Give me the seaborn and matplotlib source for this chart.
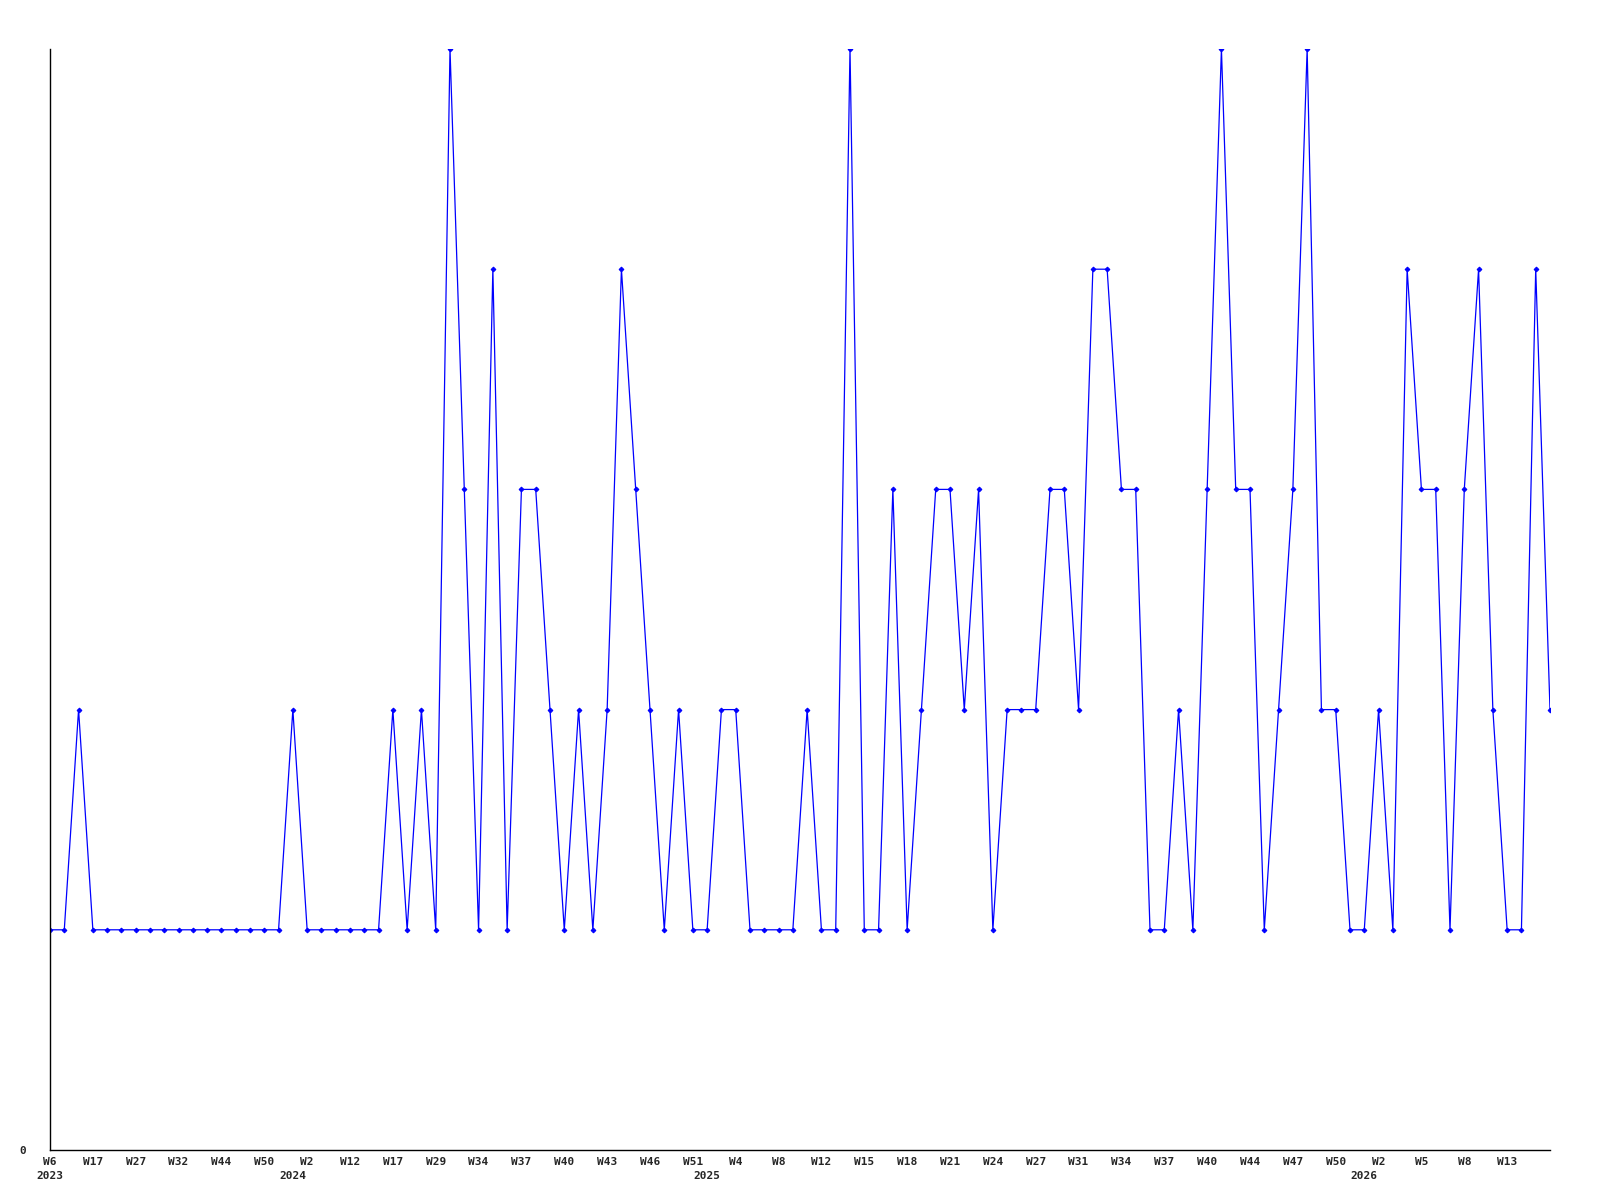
import pandas as pd
import matplotlib
matplotlib.use("Agg")
import matplotlib.pyplot as plt
import seaborn as sns

# one value per sample, in order
values = [1, 1, 2, 1, 1, 1, 1, 1, 1, 1, 1, 1, 1, 1, 1, 1, 1, 2, 1, 1,
          1, 1, 1, 1, 2, 1, 2, 1, 5, 3, 1, 4, 1, 3, 3, 2, 1, 2, 1, 2,
          4, 3, 2, 1, 2, 1, 1, 2, 2, 1, 1, 1, 1, 2, 1, 1, 5, 1, 1, 3,
          1, 2, 3, 3, 2, 3, 1, 2, 2, 2, 3, 3, 2, 4, 4, 3, 3, 1, 1, 2,
          1, 3, 5, 3, 3, 1, 2, 3, 5, 2, 2, 1, 1, 2, 1, 4, 3, 3, 1, 3,
          4, 2, 1, 1, 4, 2]

# week labels shown on every third sample
week_labels = ["W6", "W17", "W27", "W32", "W44", "W50", "W2", "W12", "W17",
               "W29", "W34", "W37", "W40", "W43", "W46", "W51", "W4", "W8",
               "W12", "W15", "W18", "W21", "W24", "W27", "W31", "W34", "W37",
               "W40", "W44", "W47", "W50", "W2", "W5", "W8", "W13"]

# year labels and the first sample of each year
years = ["2023", "2024", "2025", "2026"]
year_start = [0, 17, 46, 92]

df = pd.DataFrame({"idx": range(len(values)), "count": values})

sns.set_style("white")
plt.rcParams["font.family"] = ["DejaVu Sans Mono"]

fig = plt.figure(figsize=(16, 12), dpi=100)
ax = fig.add_axes([50 / 1600, 1 - 1150 / 1200, 1500 / 1600, 1101 / 1200])

sns.lineplot(data=df, x="idx", y="count", ax=ax, color="#0000ff",
             linewidth=0.9, marker="D", markersize=2.4,
             markeredgecolor="#0000ff", markerfacecolor="#0000ff")

ax.set_xlim(0, len(values) - 1)
ax.set_ylim(0, 5)

ax.set_xticks([i * 3 for i in range(len(week_labels))])
ax.set_xticklabels(week_labels, fontsize=8, fontweight="bold")
ax.set_yticks([0])
ax.set_yticklabels(["0"], fontsize=8, fontweight="bold")
ax.tick_params(axis="x", length=0, pad=5)
ax.tick_params(axis="y", length=0, pad=17)

for yr, i in zip(years, year_start):
    ax.annotate(yr, xy=(i, 0), xycoords=("data", "axes fraction"),
                xytext=(0, -19), textcoords="offset points",
                ha="center", va="center", fontsize=8, fontweight="bold")

ax.set_xlabel("")
ax.set_ylabel("")
sns.despine(ax=ax)
for s in ["left", "bottom"]:
    ax.spines[s].set_color("black")
    ax.spines[s].set_linewidth(1)

fig.savefig("out.png", dpi=100)
